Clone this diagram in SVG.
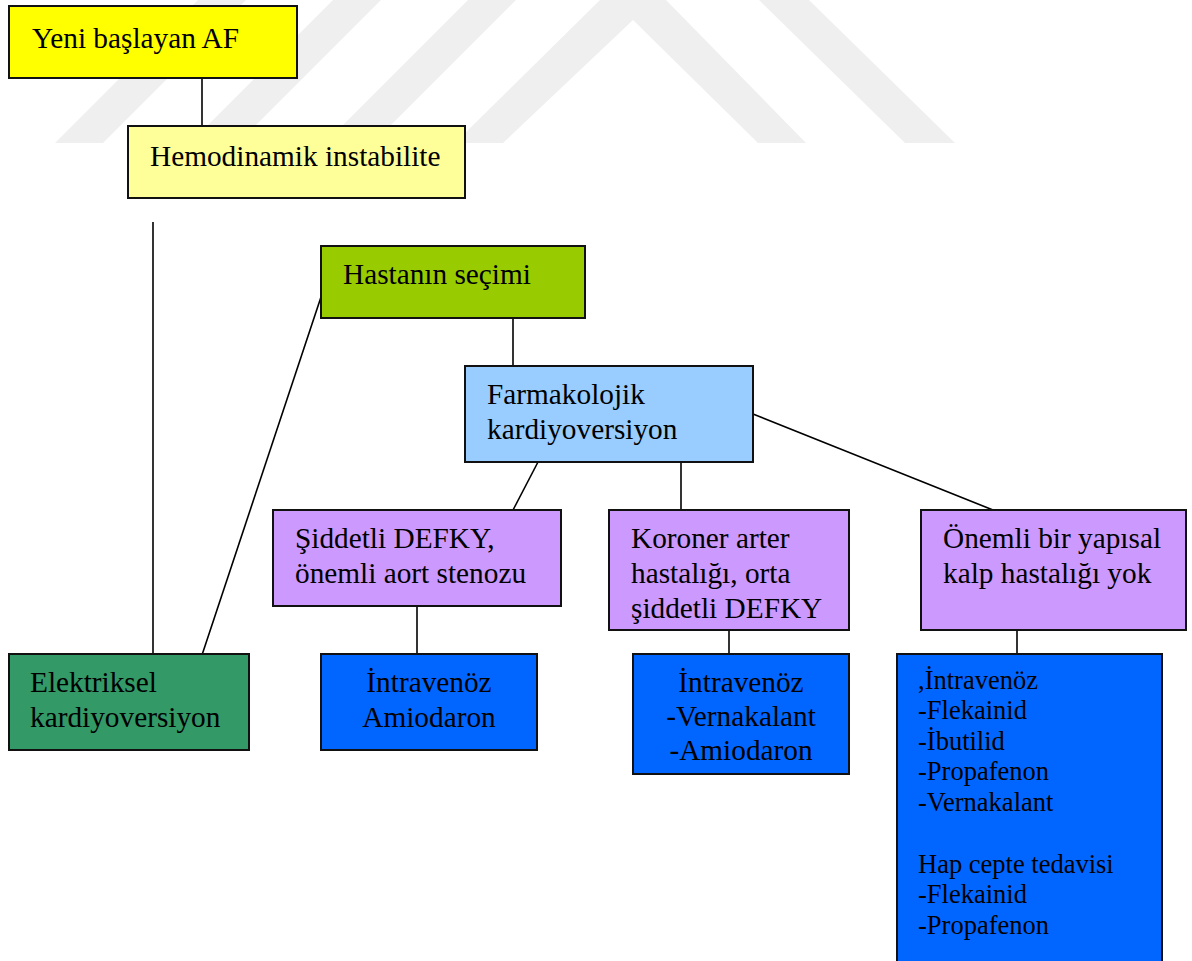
<svg xmlns="http://www.w3.org/2000/svg" width="1192" height="961" viewBox="0 0 1192 961">
<style>
.wm{fill:#efefef;stroke:none}
.box{stroke:#111;stroke-width:2}
.ln{stroke:#000;stroke-width:1.6;fill:none}
text{font-family:"Liberation Serif","Times New Roman",serif;font-size:29.3px;fill:#000}
.sm{font-size:26.5px}
.c{text-anchor:middle}
</style>
<rect x="0" y="0" width="1192" height="961" fill="#ffffff"/>
<g id="watermark">
<polygon class="wm" points="55,143 103,143 246,0 198,0"/>
<polygon class="wm" points="190,143 238,143 381,0 333,0"/>
<polygon class="wm" points="325,143 373,143 516,0 468,0"/>
<polygon class="wm" points="455,143 503,143 633,20 758,143 806,143 666,0 600,0"/>
<polygon class="wm" points="759,0 809,0 955,143 905,143"/>
</g>
<g id="connectors">
<line class="ln" x1="202" y1="78" x2="202" y2="126"/>
<line class="ln" x1="153" y1="222" x2="153" y2="655"/>
<line class="ln" x1="321" y1="297" x2="202" y2="655"/>
<line class="ln" x1="513" y1="318" x2="513" y2="366"/>
<line class="ln" x1="538" y1="462" x2="513" y2="510"/>
<line class="ln" x1="681" y1="462" x2="681" y2="510"/>
<line class="ln" x1="753" y1="414" x2="993" y2="510"/>
<line class="ln" x1="417" y1="606" x2="417" y2="654"/>
<line class="ln" x1="729" y1="630" x2="729" y2="654"/>
<line class="ln" x1="1017" y1="630" x2="1017" y2="654"/>
</g>
<g id="n-yeni">
<rect class="box" x="9" y="6" width="288" height="72" fill="#ffff00"/>
<text x="32" y="48">Yeni başlayan AF</text>
</g>
<g id="n-hemodinamik">
<rect class="box" x="128" y="126" width="337" height="72" fill="#ffff99"/>
<text x="150" y="166">Hemodinamik instabilite</text>
</g>
<g id="n-hastanin">
<rect class="box" x="321" y="246" width="264" height="72" fill="#99cc00"/>
<text x="343" y="284">Hastanın seçimi</text>
</g>
<g id="n-farmakolojik">
<rect class="box" x="465" y="366" width="288" height="96" fill="#99ccff"/>
<text x="487" y="404">Farmakolojik</text>
<text x="487" y="439">kardiyoversiyon</text>
</g>
<g id="n-siddetli">
<rect class="box" x="273" y="510" width="288" height="96" fill="#cc99ff"/>
<text x="295" y="548">Şiddetli DEFKY,</text>
<text x="295" y="583">önemli aort stenozu</text>
</g>
<g id="n-koroner">
<rect class="box" x="609" y="510" width="240" height="120" fill="#cc99ff"/>
<text x="631" y="548">Koroner arter</text>
<text x="631" y="583">hastalığı, orta</text>
<text x="631" y="618">şiddetli DEFKY</text>
</g>
<g id="n-onemli">
<rect class="box" x="921" y="510" width="265" height="120" fill="#cc99ff"/>
<text x="943" y="548">Önemli bir yapısal</text>
<text x="943" y="583">kalp hastalığı yok</text>
</g>
<g id="n-elektriksel">
<rect class="box" x="9" y="654" width="240" height="96" fill="#339966"/>
<text x="30" y="692">Elektriksel</text>
<text x="30" y="727">kardiyoversiyon</text>
</g>
<g id="n-iv-amiodaron">
<rect class="box" x="321" y="654" width="216" height="96" fill="#0066ff"/>
<text class="c" x="429" y="692">İntravenöz</text>
<text class="c" x="429" y="727">Amiodaron</text>
</g>
<g id="n-iv-vernakalant">
<rect class="box" x="633" y="654" width="216" height="120" fill="#0066ff"/>
<text class="c" x="741" y="692">İntravenöz</text>
<text class="c" x="741" y="726">-Vernakalant</text>
<text class="c" x="741" y="760">-Amiodaron</text>
</g>
<g id="n-iv-list">
<rect class="box" x="897" y="654" width="265" height="330" fill="#0066ff"/>
<text class="sm" x="918" y="689">,İntravenöz</text>
<text class="sm" x="918" y="719">-Flekainid</text>
<text class="sm" x="918" y="750">-İbutilid</text>
<text class="sm" x="918" y="780">-Propafenon</text>
<text class="sm" x="918" y="811">-Vernakalant</text>
<text class="sm" x="918" y="873">Hap cepte tedavisi</text>
<text class="sm" x="918" y="903">-Flekainid</text>
<text class="sm" x="918" y="934">-Propafenon</text>
</g>
</svg>
